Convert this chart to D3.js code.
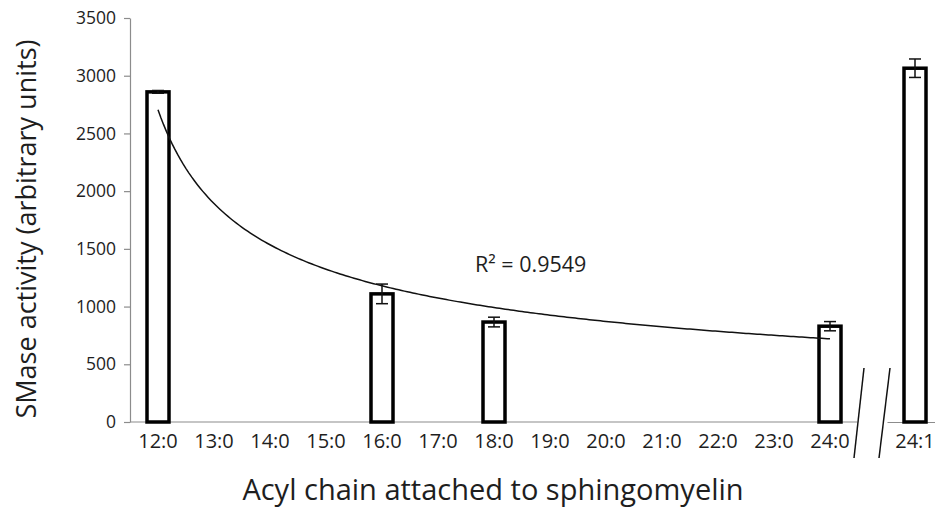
<!DOCTYPE html>
<html>
<head>
<meta charset="utf-8">
<script src="https://cdn.jsdelivr.net/npm/d3@7"></script>
<style>
  body { margin: 0; background: #fff; }
  text { font-family: "Open Sans", sans-serif; fill: #1e1e1e; }
</style>
</head>
<body>
<script>
// categories on the main (left) part of the axis
var mainCats = ['12:0', '13:0', '14:0', '15:0', '16:0', '17:0', '18:0',
                '19:0', '20:0', '21:0', '22:0', '23:0', '24:0'];
// category after the axis break
var breakCats = ['24:1'];

// measured bars: category, value, error
var barCats = ['12:0', '16:0', '18:0', '24:0', '24:1'];
var barValues = [2860, 1110, 866, 830, 3065];
var barErrors = [12, 85, 42, 40, 80];

var yTicks = [0, 500, 1000, 1500, 2000, 2500, 3000, 3500];
var r2Label = 'R\u00b2 = 0.9549';

var width = 935, height = 520;
var plotLeft = 130, plotTop = 18, plotBottom = 422;

var svg = d3.select('body').append('svg')
    .attr('width', width)
    .attr('height', height);

var y = d3.scaleLinear().domain([0, 3500]).range([plotBottom, plotTop]);
var x = d3.scaleBand().domain(mainCats).range([plotLeft, plotLeft + 13 * 56]);
var x2 = d3.scaleBand().domain(breakCats).range([887, 943]);

function cx(c) {
    if (breakCats.indexOf(c) >= 0) return x2(c) + x2.bandwidth() / 2;
    return x(c) + x.bandwidth() / 2;
}

// y axis
var yAxis = svg.append('g')
    .attr('transform', 'translate(' + plotLeft + ',0)')
    .call(d3.axisLeft(y).tickValues(yTicks).tickFormat(d3.format('d'))
        .tickSize(6).tickPadding(8).tickSizeOuter(0));
yAxis.select('.domain').attr('stroke', '#8c8c8c').attr('stroke-width', 1.2);
yAxis.selectAll('.tick line').attr('stroke', '#8c8c8c').attr('stroke-width', 1.2);
yAxis.selectAll('.tick text')
    .style('font-family', '"Open Sans", sans-serif')
    .style('font-size', '17.5px').attr('fill', '#1e1e1e');

// x axis, main part
var xAxis = svg.append('g')
    .attr('transform', 'translate(0,' + plotBottom + ')')
    .call(d3.axisBottom(x).tickSize(0).tickPadding(10).tickSizeOuter(0));
xAxis.select('.domain').attr('stroke', '#8c8c8c').attr('stroke-width', 1.2)
    .attr('d', 'M' + plotLeft + ',0H857');

// x axis after the break
var xAxis2 = svg.append('g')
    .attr('transform', 'translate(0,' + plotBottom + ')')
    .call(d3.axisBottom(x2).tickSize(0).tickPadding(10).tickSizeOuter(0));
xAxis2.select('.domain').attr('stroke', '#8c8c8c').attr('stroke-width', 1.2);

svg.selectAll('.tick text').filter(function(d) { return typeof d === 'string'; })
    .style('font-family', '"Open Sans", sans-serif')
    .style('font-size', '20px').attr('fill', '#1e1e1e').attr('dy', '0.82em');

// bars
var barW = 22;
svg.selectAll('rect.bar')
    .data(barCats)
    .enter().append('rect')
    .attr('class', 'bar')
    .attr('x', function(d) { return cx(d) - barW / 2; })
    .attr('y', function(d, i) { return y(barValues[i]); })
    .attr('width', barW)
    .attr('height', function(d, i) { return plotBottom - y(barValues[i]); })
    .attr('fill', '#fff')
    .attr('stroke', '#000')
    .attr('stroke-width', 3.5);

// error bars
var eb = svg.selectAll('g.err')
    .data(barCats)
    .enter().append('g')
    .attr('class', 'err')
    .attr('stroke', '#111')
    .attr('stroke-width', 1.5);
eb.append('line')
    .attr('x1', function(d) { return cx(d); })
    .attr('x2', function(d) { return cx(d); })
    .attr('y1', function(d, i) { return y(barValues[i] + barErrors[i]); })
    .attr('y2', function(d, i) { return y(barValues[i] - barErrors[i]); });
eb.selectAll('line.cap')
    .data(function(d) {
        var j = barCats.indexOf(d);
        return [[d, barValues[j] + barErrors[j]], [d, barValues[j] - barErrors[j]]];
    })
    .enter().append('line')
    .attr('class', 'cap')
    .attr('x1', function(d) { return cx(d[0]) - 6; })
    .attr('x2', function(d) { return cx(d[0]) + 6; })
    .attr('y1', function(d) { return y(d[1]); })
    .attr('y2', function(d) { return y(d[1]); });

// power trendline fitted on the 12:0 .. 24:0 bars (x = category index)
var fitX = [], fitY = [];
barCats.forEach(function(c, i) {
    var k = mainCats.indexOf(c);
    if (k >= 0) { fitX.push(Math.log(k + 1)); fitY.push(Math.log(barValues[i])); }
});
var mx = d3.mean(fitX), my = d3.mean(fitY);
var sxy = d3.sum(fitX, function(v, i) { return (v - mx) * (fitY[i] - my); });
var sxx = d3.sum(fitX, function(v) { return (v - mx) * (v - mx); });
var p = sxy / sxx, c = Math.exp(my - p * mx);

var xi = d3.scaleLinear().domain([1, 13])
    .range([cx(mainCats[0]), cx(mainCats[12])]);
var curve = d3.range(1, 13.001, 0.05).map(function(t) { return [t, c * Math.pow(t, p)]; });
svg.append('path')
    .datum(curve)
    .attr('fill', 'none')
    .attr('stroke', '#111')
    .attr('stroke-width', 1.5)
    .attr('d', d3.line()
        .x(function(d) { return xi(d[0]); })
        .y(function(d) { return y(d[1]); }));

svg.append('text')
    .attr('x', 475).attr('y', 272)
    .style('font-size', '21.5px')
    .text(r2Label);

// axis break marks
svg.append('g').attr('stroke', '#111').attr('stroke-width', 1.5)
    .selectAll('line')
    .data([[864, 854], [890, 879]])
    .enter().append('line')
    .attr('x1', function(d) { return d[0]; }).attr('y1', 368)
    .attr('x2', function(d) { return d[1]; }).attr('y2', 458);

// axis titles
svg.append('text')
    .attr('transform', 'translate(36,229) rotate(-90)')
    .attr('text-anchor', 'middle')
    .style('font-size', '27px')
    .text('SMase activity (arbitrary units)');

svg.append('text')
    .attr('x', 493).attr('y', 500)
    .attr('text-anchor', 'middle')
    .style('font-size', '29px')
    .text('Acyl chain attached to sphingomyelin');
</script>
</body>
</html>
